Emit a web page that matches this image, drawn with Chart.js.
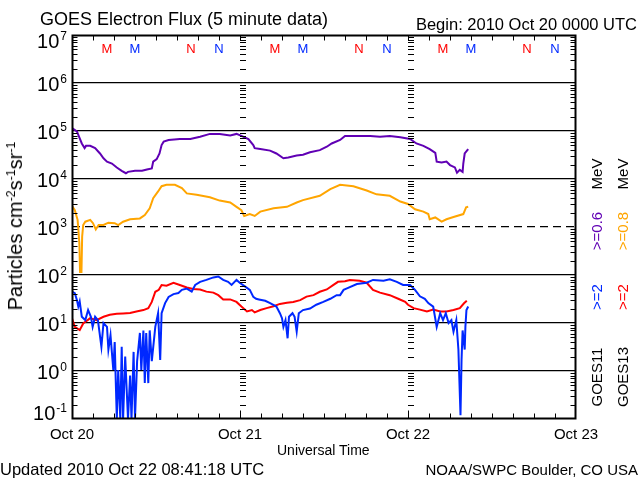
<!DOCTYPE html>
<html>
<head>
<meta charset="utf-8">
<script src="https://cdn.jsdelivr.net/npm/chart.js@4.4.1/dist/chart.umd.min.js"></script>
<style>
  body { margin: 0; background: #fff; }
  #wrap { position: relative; width: 640px; height: 480px; font-family: "Liberation Sans", sans-serif; color: #000; }
  #chart { position: absolute; left: 0; top: 0; }
  .t { position: absolute; white-space: nowrap; line-height: 1; }
  .rot { position: absolute; white-space: nowrap; line-height: 1; transform: translate(-50%, -50%) rotate(-90deg); }
  .rot sup { font-size: 0.62em; vertical-align: 0.6em; line-height: 0; }
</style>
</head>
<body>
<div id="wrap">
  <canvas id="chart" width="640" height="480"></canvas>
  <div class="t" style="left:40px;top:10px;font-size:18px">GOES Electron Flux (5 minute data)</div>
  <div class="t" style="right:3px;top:16px;font-size:16.5px">Begin: 2010 Oct 20 0000 UTC</div>
  <div class="t" style="left:277px;top:443px;font-size:14px">Universal Time</div>
  <div class="t" style="left:0px;top:461px;font-size:16.5px">Updated 2010 Oct 22 08:41:18 UTC</div>
  <div class="t" style="right:2px;top:462px;font-size:15px">NOAA/SWPC Boulder, CO USA</div>
  <div class="rot" style="left:15px;top:226px;font-size:20px">Particles cm<sup>-2</sup>s<sup>-1</sup>sr<sup>-1</sup></div>

  <div class="rot" style="left:596px;top:377px;font-size:15px">GOES11</div>
  <div class="rot" style="left:596px;top:297px;font-size:15px;color:rgb(0,40,255)">&gt;=2</div>
  <div class="rot" style="left:596px;top:231px;font-size:15px;color:rgb(96,0,180)">&gt;=0.6</div>
  <div class="rot" style="left:596px;top:174px;font-size:15px">MeV</div>
  <div class="rot" style="left:622px;top:377px;font-size:15px">GOES13</div>
  <div class="rot" style="left:622px;top:297px;font-size:15px;color:rgb(255,0,0)">&gt;=2</div>
  <div class="rot" style="left:622px;top:231px;font-size:15px;color:rgb(255,165,0)">&gt;=0.8</div>
  <div class="rot" style="left:622px;top:174px;font-size:15px">MeV</div>
</div>

<script>
// hours since 2010 Oct 20 00:00 UTC
const dayHours = [0, 24, 48, 72];
const dayLabels = ["Oct 20", "Oct 21", "Oct 22", "Oct 23"];
const decadeTicks = [0.1, 1, 10, 100, 1e3, 1e4, 1e5, 1e6, 1e7];

// local midnight / noon markers for each satellite (hour of day)
const markerHours = [5, 9, 17, 21];
const markerLabels = ["M", "M", "N", "N"];
const markerColors = ["#ff0000", "rgb(0,40,255)", "#ff0000", "rgb(0,40,255)"];

// GOES11 >=0.6 MeV (purple)
const g11LowHours = [0, 0.7, 1.0, 1.4, 1.8, 2.0, 2.6, 3.3, 4.0, 4.5, 5.0, 5.7, 6.4, 7.1, 7.7, 8.0, 9.0, 10.0, 10.7, 11.4,
  11.6, 12.1, 12.5, 12.8, 13.1, 13.8, 15.4, 16.9, 18.3, 19.7, 21.1, 22.6, 23.5, 24.2, 25.2, 25.9, 26.1, 26.9, 28.3, 29.2,
  30.2, 30.9, 32.1, 33.0, 34.0, 35.4, 36.4, 37.1, 38.3, 39.0, 40.7, 42.6, 44.0, 45.4, 46.9, 48.3, 49.2, 50.2, 51.1, 51.9,
  52.1, 52.8, 53.5, 54.0, 54.7, 55.0, 55.4, 55.8, 55.9, 56.1, 56.6];
const g11LowFlux = [1.15e5, 9.8e4, 7.6e4, 5.5e4, 4.4e4, 4.9e4, 4.9e4, 4.4e4, 3.4e4, 2.7e4, 2.3e4, 2.1e4, 1.74e4, 1.48e4, 1.32e4, 1.41e4, 1.48e4, 1.48e4, 1.58e4, 1.66e4,
  2.3e4, 2.6e4, 3.4e4, 5.1e4, 6.0e4, 6.5e4, 6.8e4, 6.8e4, 7.6e4, 8.7e4, 8.7e4, 8.1e4, 8.7e4, 7.9e4, 6.8e4, 5.1e4, 4.4e4, 4.2e4, 3.9e4, 3.4e4,
  2.7e4, 2.8e4, 3.1e4, 3.2e4, 3.6e4, 4.0e4, 4.7e4, 5.5e4, 6.5e4, 7.9e4, 7.9e4, 7.9e4, 7.6e4, 7.9e4, 7.4e4, 6.8e4, 5.5e4, 4.9e4, 4.2e4, 3.5e4,
  2.3e4, 2.2e4, 2.3e4, 1.95e4, 1.74e4, 1.35e4, 1.55e4, 1.41e4, 2.1e4, 3.4e4, 4.2e4];

// GOES13 >=0.8 MeV (orange)
const g13LowHours = [0, 0.4, 0.8, 0.9, 1.05, 1.15, 1.35, 1.45, 1.6, 1.9, 2.6, 3.0, 3.4, 3.8, 4.5, 5.2, 6.1, 6.6, 7.3, 8.3,
  9.7, 10.4, 11.1, 11.6, 12.3, 12.8, 13.5, 14.7, 15.7, 16.4, 17.8, 19.7, 21.1, 22.6, 23.5, 24.2, 24.6, 25.4, 26.1, 26.9,
  28.8, 30.7, 32.1, 33.0, 35.4, 36.9, 38.3, 40.2, 42.1, 43.5, 45.4, 46.9, 48.0, 49.0, 50.2, 50.9, 51.1, 51.9, 52.8, 53.5,
  54.5, 55.9, 56.3, 56.6];
const g13LowFlux = [2750, 2240, 1410, 930, 457, 115, 115, 630, 1100, 1290, 1410, 1200, 890, 1100, 1100, 1230, 1200, 1100, 1290, 1450,
  1510, 1780, 2450, 3980, 5500, 7080, 7590, 7590, 6460, 5010, 4680, 4170, 3550, 3240, 2630, 2240, 1700, 1860, 1700, 2090,
  2450, 2630, 3240, 3630, 4470, 6170, 7590, 7080, 5750, 4790, 4470, 3390, 3020, 2340, 2090, 1860, 1450, 1580, 1290, 1450,
  1620, 1860, 2570, 2630];

// GOES11 >=2 MeV (blue)
const g11HighHours = [0, 0.4, 0.7, 0.9, 1.1, 1.4, 1.9, 2.3, 2.7, 2.95, 3.3, 3.7, 4.2, 4.5, 5.0, 5.2, 5.5, 5.9, 6.1, 6.4,
  6.6, 6.9, 7.1, 7.3, 7.6, 8.0, 8.3, 8.5, 8.8, 9.0, 9.3, 9.7, 9.9, 10.2, 10.4, 10.6, 10.9, 11.1, 11.4, 11.9,
  12.3, 12.6, 12.8, 13.3, 13.8, 14.5, 15.2, 15.7, 16.4, 17.1, 17.6, 18.3, 19.2, 20.2, 20.9, 21.6, 22.3, 22.8, 23.5, 24.0,
  24.7, 25.4, 25.9, 26.3, 26.7, 27.6, 28.3, 29.2, 29.7, 30.0, 30.2, 30.5, 30.8, 31.0, 31.5, 31.8, 32.1, 32.4, 33.0, 34.0,
  34.9, 35.9, 36.9, 37.8, 38.3, 38.8, 39.2, 40.7, 42.1, 43.0, 44.5, 45.4, 46.4, 47.3, 48.3, 49.0, 49.7, 50.4, 50.9, 51.6,
  52.1, 52.6, 53.0, 53.4, 53.8, 54.2, 54.5, 54.9, 55.2, 55.5, 55.65, 55.8, 56.1, 56.2, 56.35, 56.6];
const g11HighFlux = [45, 42, 30, 22, 28, 13.5, 11.5, 18.6, 13.5, 8.3, 13.5, 11.5, 3.2, 10, 8.3, 2.8, 5.6, 1.05, 4, 0.1,
  1.05, 0.1, 3.2, 0.1, 2, 0.1, 0.8, 0.1, 2.5, 0.1, 1.6, 6.2, 1.05, 7, 0.56, 6.2, 0.56, 7, 1.6, 8.3,
  16, 1.7, 16, 26, 35, 40, 42, 49, 52, 45, 62, 72, 79, 89, 93, 79, 72, 62, 79, 68,
  58, 49, 35, 32, 31, 29, 26, 22, 16, 12.6, 8.3, 11.5, 4.8, 13.5, 16, 13.5, 6.6, 16, 18.6, 20,
  24, 27.5, 32, 38, 38, 49, 52, 65, 69, 79, 76, 81, 72, 62, 62, 49, 36, 32, 26, 22,
  8.3, 16, 11.5, 16, 10, 11.5, 6.6, 11.5, 2.8, 0.12, 1.7, 7, 2.8, 8.3, 18.6, 22];

// GOES13 >=2 MeV (red)
const g13HighHours = [0, 0.4, 1.1, 1.6, 2.6, 3.5, 4.5, 5.4, 6.4, 7.3, 8.3, 9.2, 10.2, 10.9, 11.4, 11.9, 12.4, 12.8, 13.5, 14.5,
  15.4, 16.4, 17.3, 18.3, 19.2, 20.2, 20.9, 21.6, 22.6, 23.5, 24.2, 25.0, 25.7, 26.1, 26.9, 27.8, 28.8, 29.7, 30.7, 31.6,
  32.6, 33.5, 34.5, 35.4, 36.4, 37.3, 38.0, 39.0, 39.7, 41.1, 42.1, 43.0, 44.0, 45.4, 46.6, 47.6, 48.0, 48.8, 49.7, 50.7,
  51.6, 52.6, 53.5, 54.5, 55.4, 56.0, 56.4];
const g13HighFlux = [12.6, 8.3, 7.1, 9.8, 12.6, 11.5, 13.5, 14.8, 15.5, 15.8, 16.2, 17.4, 18.6, 20.4, 27.5, 44.7, 49, 61.7, 60, 69,
  62, 55, 51, 50, 45, 43, 38, 31, 31, 27.5, 22, 17.4, 18.6, 16.6, 18.6, 20.4, 22.4, 25, 26.3, 27.5,
  30, 35.5, 38, 44.7, 50, 61.7, 72, 74, 79, 76, 69, 49, 43, 38, 32, 27.5, 24, 20.4, 19, 17.4,
  19, 17.4, 17.4, 18.6, 20.4, 25.7, 29];

const pts = (hours, flux) => hours.map((h, i) => ({ x: h, y: flux[i] }));

const decorPlugin = {
  id: 'decor',
  afterDraw(chart) {
    const { ctx, chartArea: a, scales: { x, y } } = chart;
    const L = Math.round(a.left) + 0.5, R = Math.round(a.right) - 0.5;
    const T = Math.round(a.top) + 0.5, B = Math.round(a.bottom) - 0.5;
    ctx.save();
    ctx.strokeStyle = '#000';

    // frame
    ctx.lineWidth = 2;
    ctx.strokeRect(L, T, R - L, B - T);
    ctx.lineWidth = 1;

    // minor log ticks on left, right and at day boundaries
    ctx.beginPath();
    for (let d = -1; d < 7; d++) {
      for (let m = 2; m <= 9; m++) {
        const py = Math.round(y.getPixelForValue(m * Math.pow(10, d))) + 0.5;
        ctx.moveTo(L, py); ctx.lineTo(L + 5, py);
        ctx.moveTo(R, py); ctx.lineTo(R - 5, py);
        dayHours.slice(1, 3).forEach(h => {
          const px = Math.round(x.getPixelForValue(h));
          ctx.moveTo(px, py); ctx.lineTo(px + 6, py);
        });
      }
    }
    // time ticks every 3 hours, top and bottom
    for (let h = 3; h < 72; h += 3) {
      const px = Math.round(x.getPixelForValue(h)) + 0.5;
      const len = h % 24 === 0 ? 8 : 5;
      ctx.moveTo(px, B); ctx.lineTo(px, B - len);
      ctx.moveTo(px, T); ctx.lineTo(px, T + 5);
    }
    ctx.stroke();

    // y decade labels
    ctx.fillStyle = '#000';
    ctx.textAlign = 'right';
    ctx.textBaseline = 'alphabetic';
    decadeTicks.forEach(v => {
      const py = y.getPixelForValue(v);
      const base = Math.min(Math.max(py + 8, a.top + 13), a.bottom + 1);
      const exp = String(Math.round(Math.log10(v)));
      ctx.font = '12px "Liberation Sans"';
      const ew = ctx.measureText(exp).width;
      ctx.fillText(exp, a.left - 5, base - 8);
      ctx.font = '20px "Liberation Sans Narrow", "Liberation Sans"';
      ctx.fillText('10', a.left - 6 - ew, base);
    });

    // day labels
    ctx.textAlign = 'center';
    ctx.font = '15px "Liberation Sans"';
    dayHours.forEach((h, i) => {
      ctx.fillText(dayLabels[i], x.getPixelForValue(h), a.bottom + 20);
    });

    // M / N markers
    ctx.font = '13px "Liberation Sans"';
    for (let d = 0; d < 3; d++) {
      markerHours.forEach((h, i) => {
        ctx.fillStyle = markerColors[i];
        ctx.fillText(markerLabels[i], x.getPixelForValue(d * 24 + h), a.top + 18);
      });
    }
    ctx.restore();
  }
};

new Chart(document.getElementById('chart').getContext('2d'), {
  type: 'line',
  data: {
    datasets: [
      { label: 'GOES11 >=0.6 MeV', data: pts(g11LowHours, g11LowFlux), borderColor: 'rgb(96,0,180)' },
      { label: 'GOES13 >=0.8 MeV', data: pts(g13LowHours, g13LowFlux), borderColor: 'rgb(255,165,0)' },
      { label: 'GOES11 >=2 MeV', data: pts(g11HighHours, g11HighFlux), borderColor: 'rgb(0,40,255)' },
      { label: 'GOES13 >=2 MeV', data: pts(g13HighHours, g13HighFlux), borderColor: 'rgb(255,0,0)' }
    ]
  },
  options: {
    responsive: false,
    animation: false,
    layout: { padding: { left: 72, right: 64, top: 35, bottom: 61 } },
    elements: { point: { radius: 0 }, line: { borderWidth: 2, tension: 0 } },
    plugins: { legend: { display: false }, tooltip: { enabled: false } },
    scales: {
      x: {
        type: 'linear', min: 0, max: 72,
        grid: { display: false, drawTicks: false },
        border: { display: false },
        ticks: { display: false }
      },
      y: {
        type: 'logarithmic', min: 0.1, max: 1e7,
        afterBuildTicks: s => { s.ticks = decadeTicks.map(v => ({ value: v })); },
        grid: {
          drawTicks: false,
          lineWidth: 1.3,
          color: c => (c.tick && c.tick.value > 0.5 && c.tick.value < 5e6) ? '#000' : 'rgba(0,0,0,0)'
        },
        border: { display: false, dash: c => (c.tick && c.tick.value === 1000) ? [8, 5] : [] },
        ticks: { display: false }
      }
    }
  },
  plugins: [decorPlugin]
});
</script>
</body>
</html>
